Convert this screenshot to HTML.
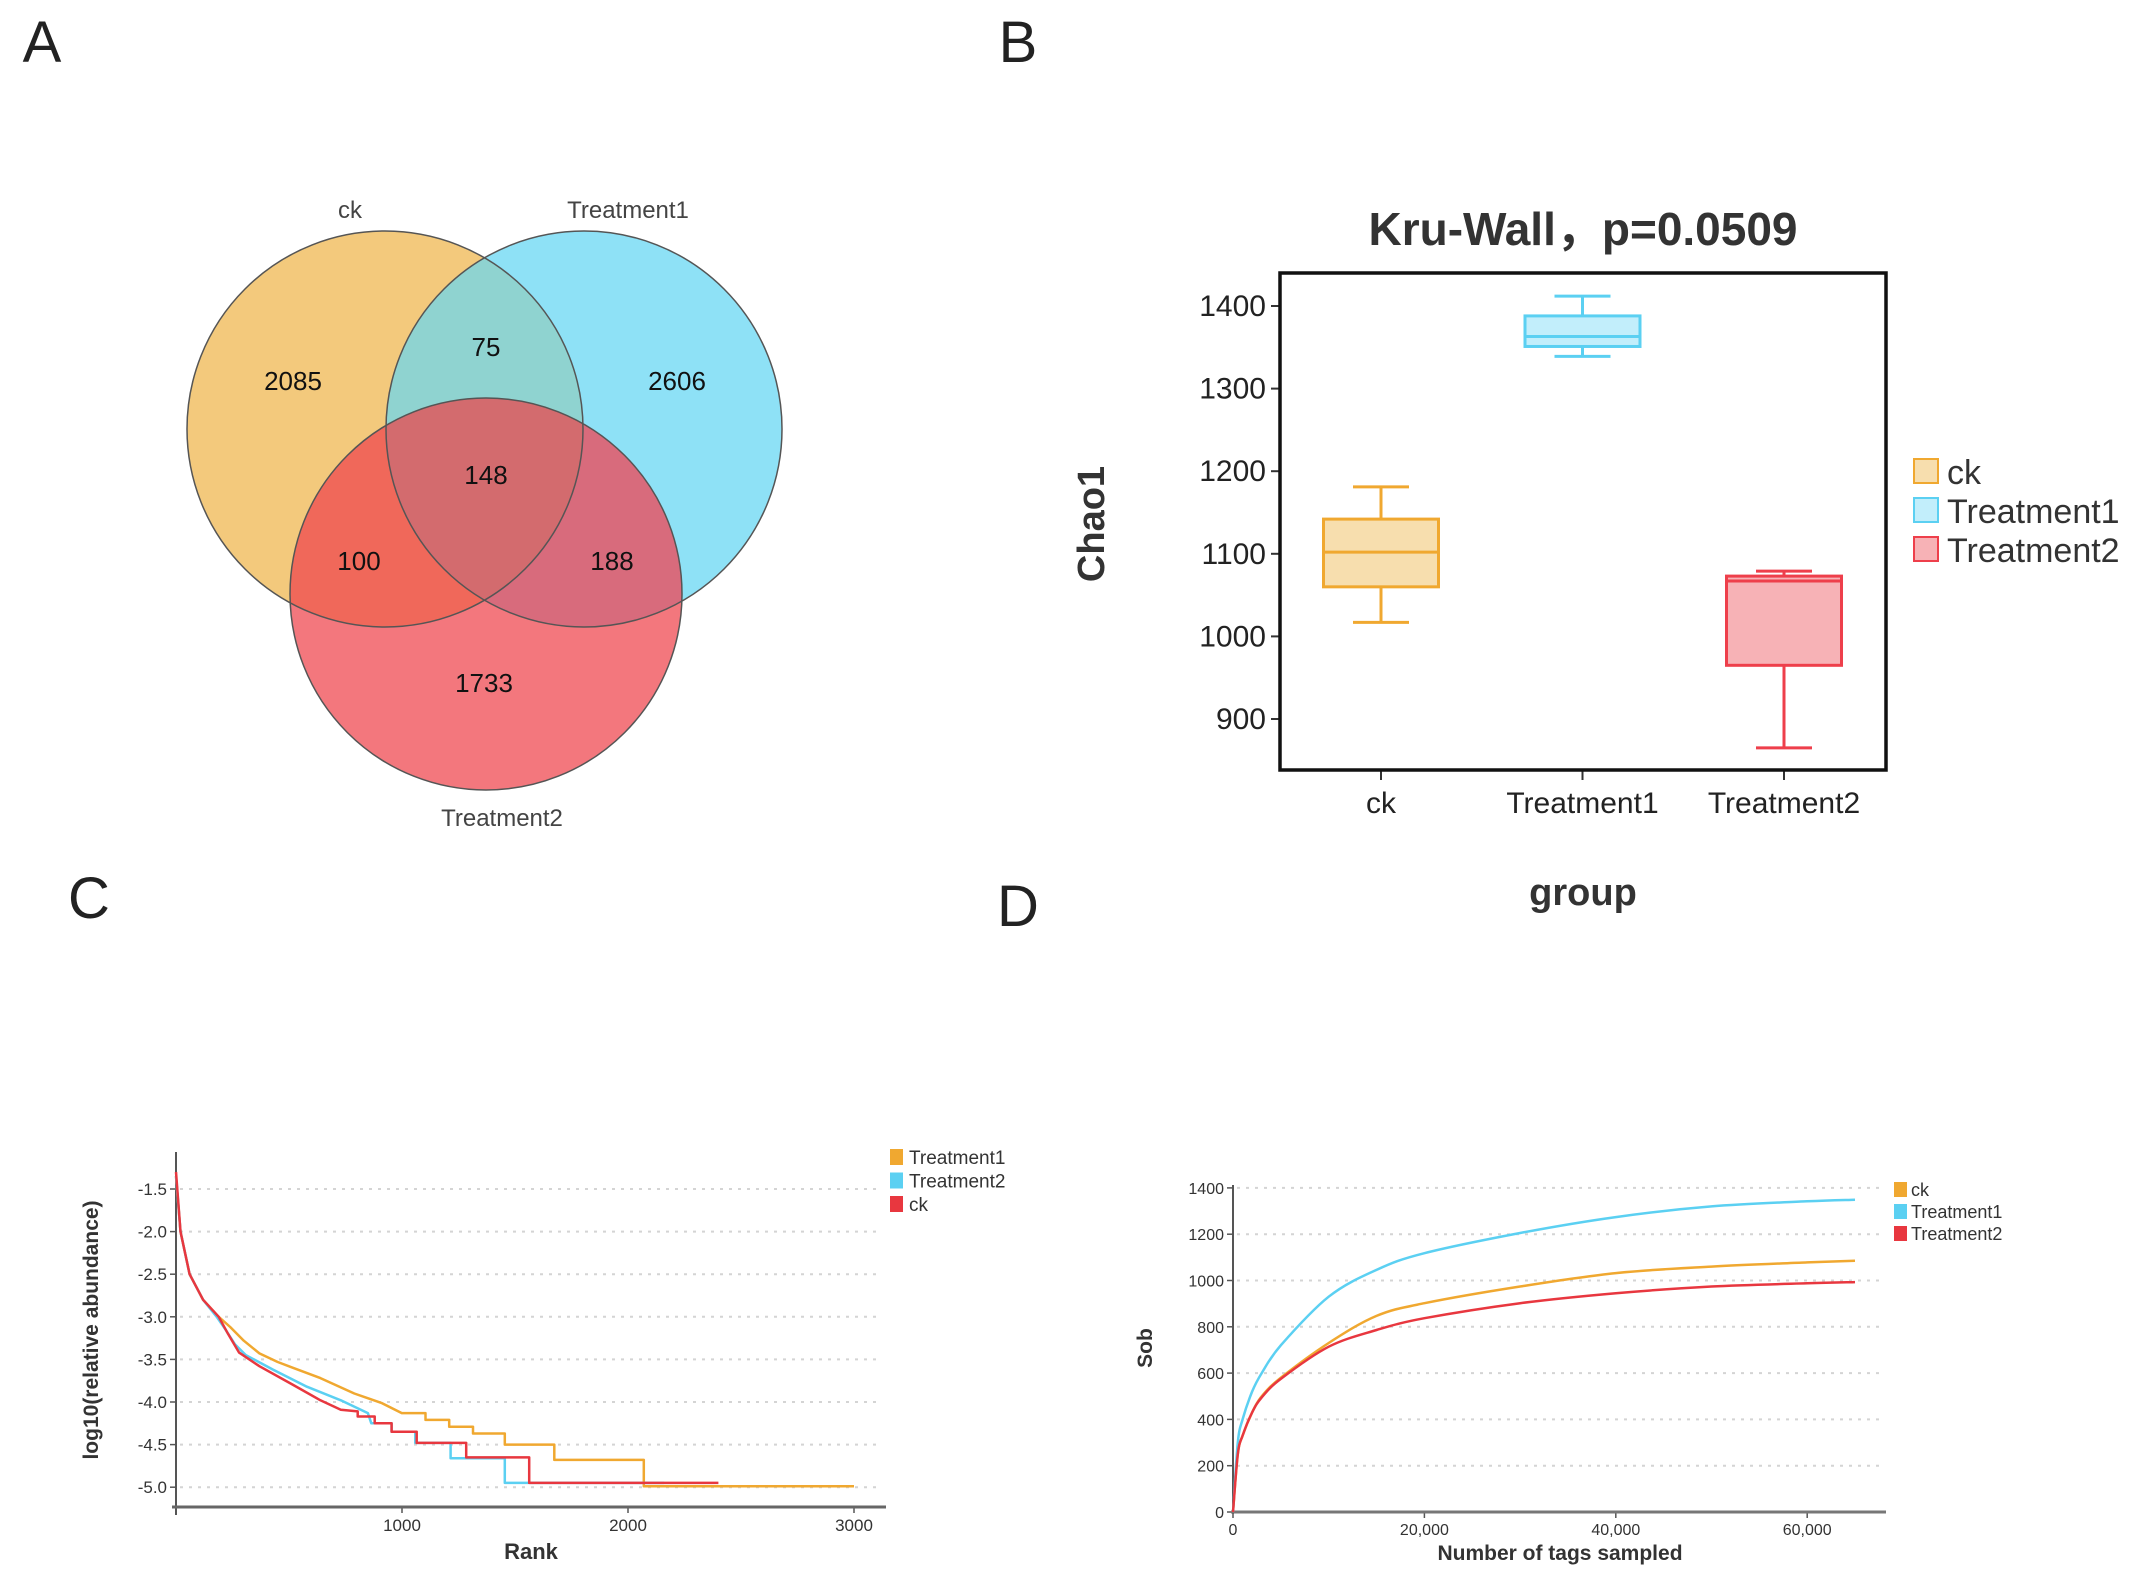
<!DOCTYPE html>
<html><head><meta charset="utf-8"><style>
html,body{margin:0;padding:0;background:#fff;}
svg{display:block;font-family:"Liberation Sans",Arial,sans-serif;}
</style></head><body>
<svg id="fig" width="2144" height="1585" viewBox="0 0 2144 1585" xmlns="http://www.w3.org/2000/svg">
<defs>
<clipPath id="cpCk"><circle cx="385" cy="429" r="198"/></clipPath>
<clipPath id="cpT1"><circle cx="584" cy="429" r="198"/></clipPath>
<clipPath id="cpT2"><circle cx="486" cy="594" r="196"/></clipPath>
</defs>
<text x="42" y="62" font-size="58" fill="#222" text-anchor="middle">A</text>
<text x="1018" y="62" font-size="58" fill="#222" text-anchor="middle">B</text>
<text x="89" y="918" font-size="58" fill="#222" text-anchor="middle">C</text>
<text x="1018" y="926" font-size="58" fill="#222" text-anchor="middle">D</text>

<g id="venn">
<circle cx="385" cy="429" r="198" fill="#F3C97C"/>
<circle cx="584" cy="429" r="198" fill="#8EE1F6"/>
<circle cx="584" cy="429" r="198" fill="#8FD3D0" clip-path="url(#cpCk)"/>
<circle cx="486" cy="594" r="196" fill="#F3777D"/>
<g clip-path="url(#cpT2)"><circle cx="385" cy="429" r="198" fill="#F0685A"/>
<circle cx="584" cy="429" r="198" fill="#D86B7C"/>
<circle cx="584" cy="429" r="198" fill="#D36B6E" clip-path="url(#cpCk)"/></g>
<circle cx="385" cy="429" r="198" fill="none" stroke="#555" stroke-width="1.5"/>
<circle cx="584" cy="429" r="198" fill="none" stroke="#555" stroke-width="1.5"/>
<circle cx="486" cy="594" r="196" fill="none" stroke="#555" stroke-width="1.5"/>
<g font-size="24" fill="#444" text-anchor="middle">
<text x="350" y="218">ck</text>
<text x="628" y="218">Treatment1</text>
<text x="502" y="826">Treatment2</text>
</g>
<g font-size="26" fill="#111" text-anchor="middle">
<text x="293" y="390">2085</text>
<text x="486" y="356">75</text>
<text x="677" y="390">2606</text>
<text x="486" y="484">148</text>
<text x="359" y="570">100</text>
<text x="612" y="570">188</text>
<text x="484" y="692">1733</text>
</g>
</g>
<g id="boxB"></g>
<g id="rankC"></g>
<g id="rareD"></g>
</svg>
<script>
// ---------- Panel B data ----------
const boxGroups = ["ck","Treatment1","Treatment2"];
const boxMin    = [1017, 1339, 865];
const boxQ1     = [1060, 1351, 965];
const boxMedian = [1102, 1363, 1067];
const boxQ3     = [1142, 1388, 1073];
const boxMax    = [1181, 1412, 1079];
const boxTicks  = [900, 1000, 1100, 1200, 1300, 1400];
// ---------- Panel C data ----------
const rankSeriesNames = ["Treatment1","Treatment2","ck"];
const rankT1  = [0,20,60,120,189,240,300,369,450,519,639,789,909,999,1104,1104,1209,1209,1314,1314,1455,1455,1674,1674,2070,2070,3000];
const valT1   = [-1.35,-2.0,-2.5,-2.8,-3.0,-3.12,-3.28,-3.43,-3.53,-3.6,-3.72,-3.90,-4.01,-4.13,-4.13,-4.21,-4.21,-4.29,-4.29,-4.37,-4.37,-4.5,-4.5,-4.68,-4.68,-4.99,-4.99];
const rankT2  = [0,20,60,120,180,219,260,309,429,579,729,849,864,954,954,1059,1059,1215,1215,1455,1455,2160];
const valT2   = [-1.35,-2.0,-2.5,-2.8,-3.0,-3.15,-3.32,-3.45,-3.62,-3.82,-3.98,-4.13,-4.25,-4.25,-4.35,-4.35,-4.48,-4.48,-4.66,-4.66,-4.95,-4.95];
const rankCk  = [0,20,60,120,189,230,279,369,519,639,729,804,804,879,879,954,954,1065,1065,1284,1284,1563,1563,2400];
const valCk   = [-1.3,-2.0,-2.5,-2.8,-3.0,-3.2,-3.42,-3.58,-3.80,-3.98,-4.09,-4.11,-4.17,-4.17,-4.25,-4.25,-4.35,-4.35,-4.48,-4.48,-4.65,-4.65,-4.95,-4.95];
const rankYTicks = [-1.5,-2.0,-2.5,-3.0,-3.5,-4.0,-4.5,-5.0];
const rankXTicks = [1000,2000,3000];
// ---------- Panel D data ----------
const rareX   = [0,500,1000,2000,3000,5000,10000,15000,20000,30000,40000,50000,60000,65000];
const rareCk  = [0,250,330,430,500,580,730,847,902,974,1032,1060,1078,1085];
const rareT1  = [0,300,400,520,600,720,930,1046,1118,1205,1274,1320,1342,1349];
const rareT2  = [0,250,330,430,495,575,714,786,837,902,945,974,988,993];
const rareYTicks = [0,200,400,600,800,1000,1200,1400];
const rareXTicks = [0,20000,40000,60000];

const NS="http://www.w3.org/2000/svg";
function mk(parent, tag, attrs, text){
  const e=document.createElementNS(NS,tag);
  for(const k in attrs) e.setAttribute(k,attrs[k]);
  if(text!==undefined) e.textContent=text;
  parent.appendChild(e); return e;
}
function smooth(px,py){
  let d='M'+px[0].toFixed(1)+','+py[0].toFixed(1);
  for(let i=0;i<px.length-1;i++){
    const a=Math.max(i-1,0),b=Math.min(i+2,px.length-1);
    const c1x=px[i]+(px[i+1]-px[a])/6,c1y=py[i]+(py[i+1]-py[a])/6,c2x=px[i+1]-(px[b]-px[i])/6,c2y=py[i+1]-(py[b]-py[i])/6;
    d+=' C'+c1x.toFixed(1)+','+c1y.toFixed(1)+' '+c2x.toFixed(1)+','+c2y.toFixed(1)+' '+px[i+1].toFixed(1)+','+py[i+1].toFixed(1);
  }
  return d;
}

// ===== Panel B =====
(function(){
  const g=document.getElementById('boxB');
  const L=1280,R=1886,T=273,B=770;
  const y=v=>306+(1400-v)*0.826;
  const xs=[1381,1583,1784];
  const x=i=>xs[0]+i*(xs[2]-xs[0])/2;
  const stroke=["#F0A830","#5BD0F2","#EE3F4B"];
  const fill=["#F7DEAE","#C2EEFB","#F7B2B6"];
  let t=mk(g,'text',{x:1583,y:245,'font-size':46,'font-weight':'bold','fill':'#333','text-anchor':'middle','font-family':'"Liberation Sans","Noto Sans CJK SC",sans-serif'},"Kru-Wall，p=0.0509");
   
  boxTicks.forEach(v=>{
    const l=mk(g,'line',{x1:L-9,x2:L,y1:y(v),y2:y(v),stroke:'#333','stroke-width':2});
     
    const tx=mk(g,'text',{x:L-14,y:y(v)+10,'font-size':30,'fill':'#222','text-anchor':'end'},String(v));
     
  });
  boxGroups.forEach((name,i)=>{
    const cx=x(i), w=115;
    const tk=mk(g,'line',{x1:cx,x2:cx,y1:B,y2:B+10,stroke:'#333','stroke-width':2});
     
    const lb=mk(g,'text',{x:cx,y:813,'font-size':30,'fill':'#222','text-anchor':'middle'},name);
     
    const grp=mk(g,'g',{});
     
    const s=stroke[i];
    mk(grp,'line',{x1:cx,x2:cx,y1:y(boxMax[i]),y2:y(boxQ3[i]),stroke:s,'stroke-width':3});
    mk(grp,'line',{x1:cx,x2:cx,y1:y(boxQ1[i]),y2:y(boxMin[i]),stroke:s,'stroke-width':3});
    mk(grp,'line',{x1:cx-28,x2:cx+28,y1:y(boxMax[i]),y2:y(boxMax[i]),stroke:s,'stroke-width':3});
    mk(grp,'line',{x1:cx-28,x2:cx+28,y1:y(boxMin[i]),y2:y(boxMin[i]),stroke:s,'stroke-width':3});
    mk(grp,'rect',{x:cx-w/2,y:y(boxQ3[i]),width:w,height:y(boxQ1[i])-y(boxQ3[i]),fill:fill[i],stroke:s,'stroke-width':3});
    mk(grp,'line',{x1:cx-w/2,x2:cx+w/2,y1:y(boxMedian[i]),y2:y(boxMedian[i]),stroke:s,'stroke-width':3});
    const ly=472+i*39;
    const lr=mk(g,'rect',{x:1914,y:ly-13,width:24,height:24,fill:fill[i],stroke:s,'stroke-width':2});
     
    const lt=mk(g,'text',{x:1947,y:ly+12,'font-size':34,'fill':'#333'},name);
     
  });
  const fr=mk(g,'rect',{x:L,y:T,width:R-L,height:B-T,fill:'none',stroke:'#111','stroke-width':3.5});
   
  const yl=mk(g,'text',{x:0,y:0,'font-size':38,'font-weight':'bold','fill':'#333','text-anchor':'middle',transform:'translate(1104,524) rotate(-90)'},"Chao1");
   
  const xl=mk(g,'text',{x:1583,y:905,'font-size':38,'font-weight':'bold','fill':'#333','text-anchor':'middle'},"group");
   
})();

// ===== Panel C =====
(function(){
  const g=document.getElementById('rankC');
  const X=r=>176+r*0.226;
  const Y=v=>1189+(-1.5-v)*85.2;
  rankYTicks.forEach(v=>{
    const gl=mk(g,'line',{x1:180,x2:882,y1:Y(v),y2:Y(v),stroke:'#d4d4d4','stroke-width':2,'stroke-dasharray':'3,6'});
     
    mk(g,'line',{x1:170,x2:176,y1:Y(v),y2:Y(v),stroke:'#555','stroke-width':1.5});
    const t=mk(g,'text',{x:167,y:Y(v)+6,'font-size':17,'fill':'#333','text-anchor':'end'},v.toFixed(1));
     
  });
  rankXTicks.forEach(v=>{
    mk(g,'line',{x1:X(v),x2:X(v),y1:1507,y2:1513,stroke:'#555','stroke-width':1.5});
    const t=mk(g,'text',{x:X(v),y:1531,'font-size':17,'fill':'#333','text-anchor':'middle'},String(v));
     
  });
  const ya=mk(g,'line',{x1:176,x2:176,y1:1152,y2:1515,stroke:'#555','stroke-width':2});
   
  const xa=mk(g,'line',{x1:172,x2:886,y1:1507,y2:1507,stroke:'#666','stroke-width':3});
   
  const series=[[rankT1,valT1,'#F0A830'],[rankT2,valT2,'#5BD0F2'],[rankCk,valCk,'#E8373F']];
  series.forEach((s,i)=>{
    const pts=s[0].map((r,j)=>X(r).toFixed(1)+','+Y(s[1][j]).toFixed(1)).join(' ');
    const pl=mk(g,'polyline',{points:pts,fill:'none',stroke:s[2],'stroke-width':2.5,'stroke-linejoin':'round'});
     
    const ly=1157+i*23.5;
    const sw=mk(g,'rect',{x:890,y:ly-8,width:13,height:16,fill:s[2]});
     
    const lt=mk(g,'text',{x:909,y:ly+7,'font-size':19,'fill':'#333'},rankSeriesNames[i]);
     
  });
  const yl=mk(g,'text',{x:0,y:0,'font-size':21,'font-weight':'bold','fill':'#333','text-anchor':'middle',transform:'translate(98,1330) rotate(-90)'},"log10(relative abundance)");
   
  const xl=mk(g,'text',{x:531,y:1559,'font-size':22,'font-weight':'bold','fill':'#333','text-anchor':'middle'},"Rank");
   
})();

// ===== Panel D =====
(function(){
  const g=document.getElementById('rareD');
  const X=v=>1233+v*191.4/20000;
  const Y=v=>1512-v*46.3/200;
  rareYTicks.forEach(v=>{
    if(v>0){const gl=mk(g,'line',{x1:1237,x2:1882,y1:Y(v),y2:Y(v),stroke:'#d4d4d4','stroke-width':2,'stroke-dasharray':'3,6'});
     }
    mk(g,'line',{x1:1227,x2:1233,y1:Y(v),y2:Y(v),stroke:'#555','stroke-width':1.5});
    const t=mk(g,'text',{x:1224,y:Y(v)+6,'font-size':16,'fill':'#333','text-anchor':'end'},String(v));
     
  });
  rareXTicks.forEach(v=>{
    mk(g,'line',{x1:X(v),x2:X(v),y1:1512,y2:1518,stroke:'#555','stroke-width':1.5});
    const t=mk(g,'text',{x:X(v),y:1535,'font-size':16,'fill':'#333','text-anchor':'middle'},v.toLocaleString('en-US'));
     
  });
  const ya=mk(g,'line',{x1:1233,x2:1233,y1:1185,y2:1514,stroke:'#555','stroke-width':2});
   
  const xa=mk(g,'line',{x1:1231,x2:1886,y1:1512,y2:1512,stroke:'#777','stroke-width':3});
   
  const names=["ck","Treatment1","Treatment2"];
  const series=[[rareCk,'#F0A830'],[rareT1,'#5BD0F2'],[rareT2,'#E8373F']];
  series.forEach((s,i)=>{
    const px=rareX.map(X), py=s[0].map(Y);
    const p=mk(g,'path',{d:smooth(px,py),fill:'none',stroke:s[1],'stroke-width':2.5});
     
    const ly=1189+i*22;
    const sw=mk(g,'rect',{x:1894,y:ly-7,width:13,height:15,fill:s[1]});
     
    const lt=mk(g,'text',{x:1911,y:ly+7,'font-size':18,'fill':'#333'},names[i]);
     
  });
  const yl=mk(g,'text',{x:0,y:0,'font-size':21,'font-weight':'bold','fill':'#333','text-anchor':'middle',transform:'translate(1152,1348) rotate(-90)'},"Sob");
   
  const xl=mk(g,'text',{x:1560,y:1560,'font-size':21,'font-weight':'bold','fill':'#333','text-anchor':'middle'},"Number of tags sampled");
   
})();
</script>
</body></html>
